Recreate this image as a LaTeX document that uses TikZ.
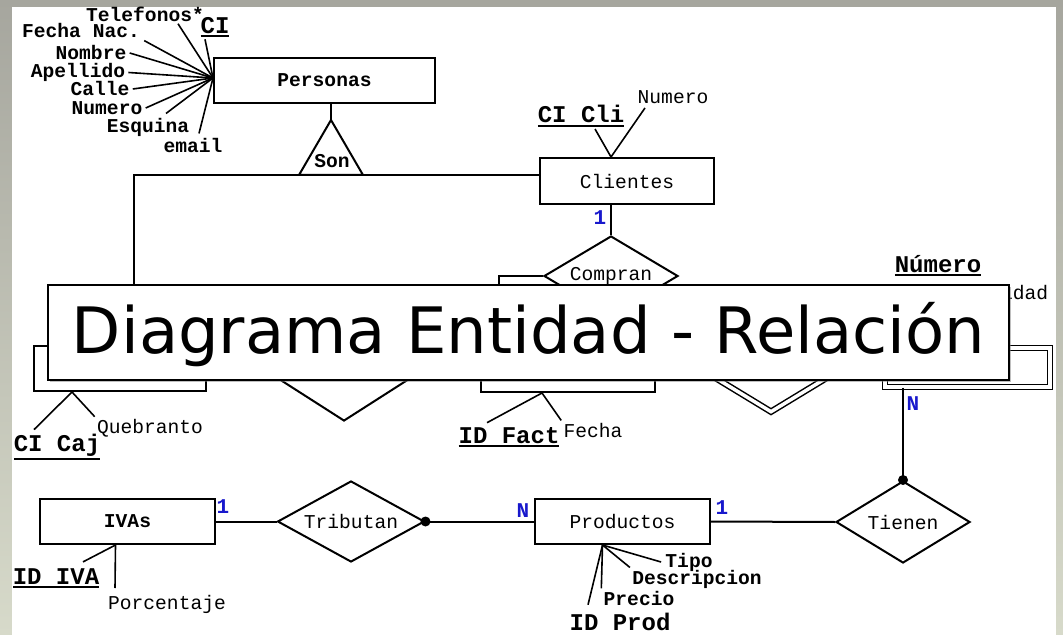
\documentclass[tikz,border=0pt]{standalone}
\usepackage{fontspec}
\usetikzlibrary{shapes.geometric,shadows}
\newfontfamily\ermono{Liberation Mono}
\newfontfamily\titlefont{DejaVu Sans}
\definecolor{cardblue}{RGB}{24,24,204}
\definecolor{framegrey}{RGB}{166,166,158}
\definecolor{framepale}{RGB}{215,218,202}
% underlined key attribute
\newcommand{\keyline}[1]{\vtop{\hbox{#1}\kern0.8pt\hrule height 1pt}}
\tikzset{
  entity/.style={draw, line width=1pt, fill=white, minimum width=87pt, minimum height=22.5pt, inner sep=0pt, font=\ermono\fontsize{9.8}{11}\selectfont},
  relation/.style={draw, line width=1pt, fill=white, diamond, aspect=1.7, minimum width=67pt, minimum height=40pt, inner sep=0pt, font=\ermono\fontsize{9.8}{11}\selectfont},
  heavy/.style={font=\ermono\bfseries\fontsize{9.8}{11}\selectfont},
  attr/.style={inner sep=0pt, font=\ermono\bfseries\fontsize{9.8}{11}\selectfont},
  attrthin/.style={inner sep=0pt, font=\ermono\fontsize{9.8}{11}\selectfont},
  keyattr/.style={inner sep=0pt, font=\ermono\bfseries\fontsize{12}{14}\selectfont},
  card/.style={inner sep=0pt, text=cardblue, font=\ermono\bfseries\fontsize{10.5}{12}\selectfont},
  link/.style={line width=1pt},
  thinlink/.style={line width=0.8pt},
  joint/.style={circle, fill, inner sep=0pt, minimum size=5pt},
}
\begin{document}
\begin{tikzpicture}[x=0.5pt, y=-0.5pt]
	%frame
	\useasboundingbox (0,0) rectangle (1063,635);
	\shade[top color=framegrey, bottom color=framepale] (0,0) rectangle (1063,635);
	\fill[white] (12,7) rectangle (1056,635);
	
	%Personas
	\node[entity, heavy, minimum width=110.5pt] (per) at (324.5,80.5) {Personas};
	\coordinate (perjoin) at (213,78);
	\node[attr] (tel) at (145,14) {Telefonos*};
	\node[keyattr] (ci) at (215,27) {\keyline{CI}};
	\node[attr] (fnac) at (81,31) {Fecha Nac.};
	\node[attr] (nom) at (91,53) {Nombre};
	\node[attr] (ape) at (78,72.5) {Apellido};
	\node[attr] (cal) at (100,89) {Calle};
	\node[attr] (num) at (107,108) {Numero};
	\node[attr] (esq) at (148,127) {Esquina};
	\node[attr] (mail) at (193,145) {email};
	\draw[thinlink] (perjoin) -- ([shift={(16.5pt,-1pt)}]tel.south);
	\draw[thinlink] (perjoin) -- ([shift={(-5pt,-1pt)}]ci.south);
	\draw[thinlink] (perjoin) -- ([shift={(2pt,-1pt)}]fnac.south east);
	\foreach \a in {nom.east, ape.east, cal.east, num.east}
		\draw[thinlink] (perjoin) -- ([xshift=1.5pt]\a);
	\draw[thinlink] (perjoin) -- ([shift={(9pt,2pt)}]esq.north);
	\draw[thinlink] (perjoin) -- ([shift={(3pt,2pt)}]mail.north);
	
	%Son
	\coordinate (sontop) at (331,120);
	\draw[link] (per.south -| sontop) -- (sontop);
	\draw[link] (sontop) -- (299,175) -- (363,175) -- cycle;
	\node[heavy, inner sep=0pt] (son) at (332,161) {Son};
	
	%Clientes
	\node[entity, minimum height=23pt] (cli) at (627,181) {Clientes};
	\node[relation] (comp) at (611,276) {Compran};
	\coordinate (clijoin) at (cli.north -| comp.north);
	\node[keyattr] (cicli) at (581,116) {\keyline{CI Cli}};
	\node[attrthin] (clinum) at (673,97) {Numero};
	\draw[thinlink] (clijoin) -- ([shift={(7pt,-1pt)}]cicli.south);
	\draw[thinlink] (clijoin) -- ([shift={(-14pt,-2pt)}]clinum.south);
	\draw[link] (cli.south -| comp.north) -- (comp.north);
	\node[card] (cardcli) at (600,218) {1};
	
	%Cajeros
	\node[entity, minimum width=86pt] (caj) at (120,368.5) {};
	\coordinate (isa) at (134,175);
	\draw[link] (cli.west |- isa) -- (isa) -- (isa |- caj.north);
	\coordinate (cajjoin) at ([xshift=-24pt]caj.south);
	\node[keyattr] (cicaj) at (57,447) {\keyline{CI Caj}};
	\node[attrthin] (queb) at (150,428) {Quebranto};
	\draw[thinlink] (cajjoin) -- ([shift={(-11.5pt,2pt)}]cicaj.north);
	\draw[thinlink] (cajjoin) -- ([shift={(-1pt,1pt)}]queb.north west);
	
	\node[relation, minimum height=43pt] (rmid) at (344,378) {};
	
	%Facturas
	\node[entity, minimum height=23pt] (fact) at (568,369) {};
	\coordinate (factin) at (499,346);
	\draw[link] (comp.west) -| (factin);
	\coordinate (factjoin) at ([xshift=-13pt]fact.south);
	\node[keyattr] (idfact) at (509,437) {\keyline{ID Fact}};
	\node[attrthin] (fecha) at (593,430) {Fecha};
	\draw[thinlink] (factjoin) -- ([shift={(-11pt,2pt)}]idfact.north);
	\draw[thinlink] (factjoin) -- ([shift={(-1pt,1pt)}]fecha.north west);
	
	\node[relation, double, line width=0.75pt, double distance=1.75pt, minimum width=64pt, minimum height=39pt] (rweak) at (771,373) {};
	
	%weak entity
	\node[entity, double, line width=0.75pt, double distance=1.75pt, minimum width=82.5pt, minimum height=19.5pt] (weak) at (967.5,367.5) {};
	\node[keyattr] (wnum) at (938,266) {\keyline{Número}};
	\node[attrthin] (wcant) at (1001,293) {Cantidad};
	
	%Tienen
	\node[relation, minimum height=41pt] (tien) at (903,522) {Tienen};
	\draw[link] (weak.south -| tien.north) -- (tien.north);
	\node[joint] (tdot) at (tien.north) {};
	\node[card] (cardweak) at (913,404) {N};
	
	%Productos
	\node[entity, minimum width=87.5pt] (prod) at (622.5,521.5) {Productos};
	\draw[link] (prod.east) -- (tien.west);
	\node[card] (cardprod) at (722,508) {1};
	\coordinate (prodjoin) at ([xshift=-10pt]prod.south);
	\node[attr] (tipo) at (689,562) {Tipo};
	\node[attr] (desc) at (697,579) {Descripcion};
	\node[attr] (prec) at (639,598) {Precio};
	\node[keyattr] (idprod) at (620,622) {ID Prod};
	\draw[thinlink] (prodjoin) -- ([xshift=-2pt]tipo.west);
	\foreach \a in {desc.north west, prec.north west}
		\draw[thinlink] (prodjoin) -- ([shift={(-1pt,1pt)}]\a);
	\draw[thinlink] (prodjoin) -- ([shift={(-16pt,4pt)}]idprod.north);
	
	%Tributan, IVAs
	\node[relation, minimum width=73.5pt, minimum height=40.5pt] (trib) at (351,521.5) {Tributan};
	\node[entity, heavy, minimum width=87.5pt] (iva) at (127.5,521.5) {IVAs};
	\draw[link] (iva.east) -- (trib.west);
	\draw[link] (trib.east) -- (prod.west);
	\node[joint] (trdot) at (trib.east) {};
	\node[card] (cardiva) at (223,507) {1};
	\node[card] (cardtrib) at (523,511) {N};
	\coordinate (ivajoin) at ([xshift=-6pt]iva.south);
	\coordinate (porctop) at (115,588);
	\node[keyattr] (idiva) at (56,578) {\keyline{ID IVA}};
	\node[attrthin] (porc) at (167,604) {Porcentaje};
	\draw[thinlink] (ivajoin) -- ([shift={(13.5pt,3pt)}]idiva.north);
	\draw[thinlink] (ivajoin) -- (porctop);
	
	%title
	\node[draw, line width=0.75pt, fill=white, minimum width=480.5pt, minimum height=47.5pt, inner sep=0pt,
		font=\titlefont\fontsize{32}{36}\selectfont, text depth=4.5pt,
		drop shadow={shadow xshift=1pt, shadow yshift=-1pt, opacity=0.5}] (title) at (528.5,332.5) {Diagrama Entidad - Relación};
\end{tikzpicture}
\end{document}
